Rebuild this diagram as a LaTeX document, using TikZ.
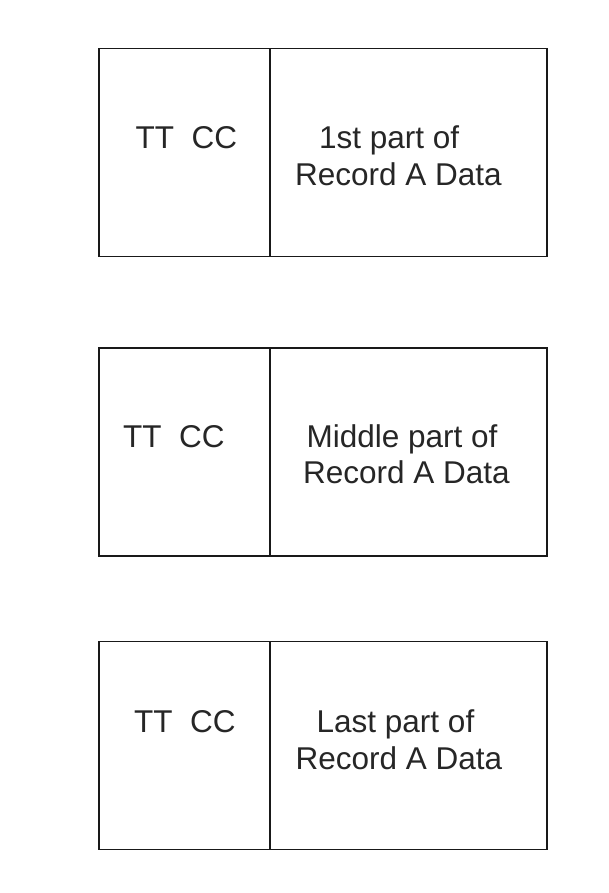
\documentclass[tikz,border=0pt]{standalone}
\usepackage{fontspec}
\setmainfont{Liberation Sans}
\begin{document}
\begin{tikzpicture}[x=1pt,y=-1pt,
  cell/.style={draw=black!90, line width=1.7pt, inner sep=0pt, outer sep=0pt, minimum height=208pt, anchor=north west},
  tagcell/.style={cell, minimum width=171pt},
  datacell/.style={cell, minimum width=276.7pt},
  txt/.style={anchor=base west, inner sep=0pt, font=\fontsize{31.5}{37.7}\selectfont, text=black!85}]
  \useasboundingbox (0,0) rectangle (608,893);

  % record segment 1
  \node[tagcell]  (tag1)  at (99,48.5) {};
  \node[datacell] (data1) at (tag1.north east) {};
  \node[txt] (t1)  at (135.5,148.3) {TT\ \ CC};
  \node[txt] (d1a) at (319,148.3) {1st part of};
  \node[txt] (d1b) at (295,185.7) {Record A Data};

  % record segment 2
  \node[tagcell]  (tag2)  at (99,348) {};
  \node[datacell] (data2) at (tag2.north east) {};
  \node[txt] (t2)  at (123,447) {TT\ \ CC};
  \node[txt] (d2a) at (306.5,447) {Middle part of};
  \node[txt] (d2b) at (303,483.7) {Record A Data};

  % record segment 3
  \node[tagcell]  (tag3)  at (99,641.5) {};
  \node[datacell] (data3) at (tag3.north east) {};
  \node[txt] (t3)  at (134,732.3) {TT\ \ CC};
  \node[txt] (d3a) at (316.5,732.3) {Last part of};
  \node[txt] (d3b) at (295.5,769.3) {Record A Data};
\end{tikzpicture}
\end{document}
